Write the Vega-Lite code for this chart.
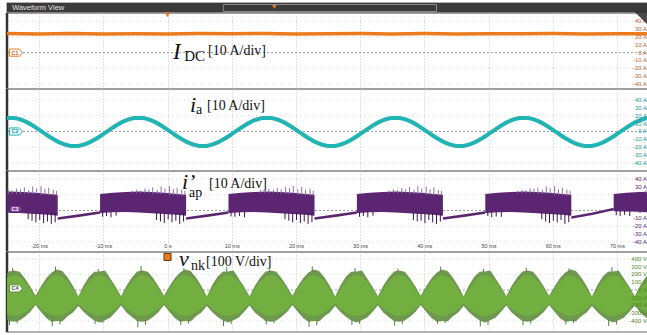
{
"$schema": "https://vega.github.io/schema/vega-lite/v6.json",
"padding": {"left": 5, "top": 2, "right": 0, "bottom": 0},
"spacing": 0,
"bounds": "flush",
"background": "#ffffff",
"config": {
  "view": {"stroke": "#9a9a9a", "strokeWidth": 1.5},
  "axis": {"minExtent": 0, "maxExtent": 0, "domain": false, "ticks": false, "labelFont": "Liberation Sans", "labelOverlap": false, "labelBound": false}
},
"datasets": {
  "ylA": [{"v":-40,"s":"-40 A"},{"v":-30,"s":"-30 A"},{"v":-20,"s":"-20 A"},{"v":-10,"s":"-10 A"},{"v":0,"s":"0 A"},{"v":10,"s":"10 A"},{"v":20,"s":"20 A"},{"v":30,"s":"30 A"},{"v":40,"s":"40 A"}],
  "ylV": [{"v":-400,"s":"-400 V"},{"v":-300,"s":"-300 V"},{"v":-200,"s":"-200 V"},{"v":-100,"s":"-100 V"},{"v":0,"s":"0 V"},{"v":100,"s":"100 V"},{"v":200,"s":"200 V"},{"v":300,"s":"300 V"},{"v":400,"s":"400 V"}],
  "idc": [{"t":-25,"v":24.2},{"t":-20,"v":23.7},{"t":-15,"v":24.3},{"t":-10,"v":23.8},{"t":-5,"v":24.1},{"t":0,"v":23.6},{"t":5,"v":24.2},{"t":10,"v":23.9},{"t":15,"v":24.4},{"t":20,"v":23.7},{"t":25,"v":24.0},{"t":30,"v":24.3},{"t":35,"v":23.8},{"t":40,"v":24.2},{"t":45,"v":23.7},{"t":50,"v":24.1},{"t":55,"v":23.9},{"t":60,"v":24.3},{"t":65,"v":23.8},{"t":70,"v":24.1},{"t":75,"v":23.9}],
  "ia": [{"t":-25,"v":17.28},
    {"t":-24,"v":17.28},{"t":-23,"v":15.54},{"t":-22,"v":12.23},{"t":-21,"v":7.67},{"t":-20,"v":2.32},{"t":-19,"v":-3.32},{"t":-18,"v":-8.67},{"t":-17,"v":-13.23},{"t":-16,"v":-16.54},{"t":-15,"v":-18.28},{"t":-14,"v":-18.28},{"t":-13,"v":-16.54},{"t":-12,"v":-13.23},{"t":-11,"v":-8.67},{"t":-10,"v":-3.32},{"t":-9,"v":2.32},{"t":-8,"v":7.67},{"t":-7,"v":12.23},{"t":-6,"v":15.54},{"t":-5,"v":17.28},
    {"t":-4,"v":17.28},{"t":-3,"v":15.54},{"t":-2,"v":12.23},{"t":-1,"v":7.67},{"t":0,"v":2.32},{"t":1,"v":-3.32},{"t":2,"v":-8.67},{"t":3,"v":-13.23},{"t":4,"v":-16.54},{"t":5,"v":-18.28},{"t":6,"v":-18.28},{"t":7,"v":-16.54},{"t":8,"v":-13.23},{"t":9,"v":-8.67},{"t":10,"v":-3.32},{"t":11,"v":2.32},{"t":12,"v":7.67},{"t":13,"v":12.23},{"t":14,"v":15.54},{"t":15,"v":17.28},
    {"t":16,"v":17.28},{"t":17,"v":15.54},{"t":18,"v":12.23},{"t":19,"v":7.67},{"t":20,"v":2.32},{"t":21,"v":-3.32},{"t":22,"v":-8.67},{"t":23,"v":-13.23},{"t":24,"v":-16.54},{"t":25,"v":-18.28},{"t":26,"v":-18.28},{"t":27,"v":-16.54},{"t":28,"v":-13.23},{"t":29,"v":-8.67},{"t":30,"v":-3.32},{"t":31,"v":2.32},{"t":32,"v":7.67},{"t":33,"v":12.23},{"t":34,"v":15.54},{"t":35,"v":17.28},
    {"t":36,"v":17.28},{"t":37,"v":15.54},{"t":38,"v":12.23},{"t":39,"v":7.67},{"t":40,"v":2.32},{"t":41,"v":-3.32},{"t":42,"v":-8.67},{"t":43,"v":-13.23},{"t":44,"v":-16.54},{"t":45,"v":-18.28},{"t":46,"v":-18.28},{"t":47,"v":-16.54},{"t":48,"v":-13.23},{"t":49,"v":-8.67},{"t":50,"v":-3.32},{"t":51,"v":2.32},{"t":52,"v":7.67},{"t":53,"v":12.23},{"t":54,"v":15.54},{"t":55,"v":17.28},
    {"t":56,"v":17.28},{"t":57,"v":15.54},{"t":58,"v":12.23},{"t":59,"v":7.67},{"t":60,"v":2.32},{"t":61,"v":-3.32},{"t":62,"v":-8.67},{"t":63,"v":-13.23},{"t":64,"v":-16.54},{"t":65,"v":-18.28},{"t":66,"v":-18.28},{"t":67,"v":-16.54},{"t":68,"v":-13.23},{"t":69,"v":-8.67},{"t":70,"v":-3.32},{"t":71,"v":2.32},{"t":72,"v":7.67},{"t":73,"v":12.23},{"t":74,"v":15.54},{"t":75,"v":17.28}],
  "iap": [
    {"s":"b0","t":-30.5,"lo":-3,"hi":21},{"s":"b0","t":-28.5,"lo":-2.2,"hi":22.5},{"s":"b0","t":-26.5,"lo":-2,"hi":23.5},{"s":"b0","t":-24.5,"lo":-2.5,"hi":24},{"s":"b0","t":-22.5,"lo":-3.5,"hi":23.5},{"s":"b0","t":-20.5,"lo":-4.5,"hi":22.5},{"s":"b0","t":-18.5,"lo":-5.5,"hi":21},{"s":"b0","t":-17.1,"lo":-6.5,"hi":20},
    {"s":"g0","t":-17.1,"lo":-11.6,"hi":-8.4},{"s":"g0","t":-13.8,"lo":-8.1,"hi":-4.9},{"s":"g0","t":-10.5,"lo":-4.1,"hi":-0.9},
    {"s":"b1","t":-10.5,"lo":-3,"hi":21},{"s":"b1","t":-8.5,"lo":-2.2,"hi":22.5},{"s":"b1","t":-6.5,"lo":-2,"hi":23.5},{"s":"b1","t":-4.5,"lo":-2.5,"hi":24},{"s":"b1","t":-2.5,"lo":-3.5,"hi":23.5},{"s":"b1","t":-0.5,"lo":-4.5,"hi":22.5},{"s":"b1","t":1.5,"lo":-5.5,"hi":21},{"s":"b1","t":2.9,"lo":-6.5,"hi":20},
    {"s":"g1","t":2.9,"lo":-11.6,"hi":-8.4},{"s":"g1","t":6.2,"lo":-8.1,"hi":-4.9},{"s":"g1","t":9.5,"lo":-4.1,"hi":-0.9},
    {"s":"b2","t":9.5,"lo":-3,"hi":21},{"s":"b2","t":11.5,"lo":-2.2,"hi":22.5},{"s":"b2","t":13.5,"lo":-2,"hi":23.5},{"s":"b2","t":15.5,"lo":-2.5,"hi":24},{"s":"b2","t":17.5,"lo":-3.5,"hi":23.5},{"s":"b2","t":19.5,"lo":-4.5,"hi":22.5},{"s":"b2","t":21.5,"lo":-5.5,"hi":21},{"s":"b2","t":22.9,"lo":-6.5,"hi":20},
    {"s":"g2","t":22.9,"lo":-11.6,"hi":-8.4},{"s":"g2","t":26.2,"lo":-8.1,"hi":-4.9},{"s":"g2","t":29.5,"lo":-4.1,"hi":-0.9},
    {"s":"b3","t":29.5,"lo":-3,"hi":21},{"s":"b3","t":31.5,"lo":-2.2,"hi":22.5},{"s":"b3","t":33.5,"lo":-2,"hi":23.5},{"s":"b3","t":35.5,"lo":-2.5,"hi":24},{"s":"b3","t":37.5,"lo":-3.5,"hi":23.5},{"s":"b3","t":39.5,"lo":-4.5,"hi":22.5},{"s":"b3","t":41.5,"lo":-5.5,"hi":21},{"s":"b3","t":42.9,"lo":-6.5,"hi":20},
    {"s":"g3","t":42.9,"lo":-11.6,"hi":-8.4},{"s":"g3","t":46.2,"lo":-8.1,"hi":-4.9},{"s":"g3","t":49.5,"lo":-4.1,"hi":-0.9},
    {"s":"b4","t":49.5,"lo":-3,"hi":21},{"s":"b4","t":51.5,"lo":-2.2,"hi":22.5},{"s":"b4","t":53.5,"lo":-2,"hi":23.5},{"s":"b4","t":55.5,"lo":-2.5,"hi":24},{"s":"b4","t":57.5,"lo":-3.5,"hi":23.5},{"s":"b4","t":59.5,"lo":-4.5,"hi":22.5},{"s":"b4","t":61.5,"lo":-5.5,"hi":21},{"s":"b4","t":62.9,"lo":-6.5,"hi":20},
    {"s":"g4","t":62.9,"lo":-10.6,"hi":-7.4},{"s":"g4","t":66.2,"lo":-5.6,"hi":-2.4},{"s":"g4","t":69.5,"lo":0.4,"hi":3.6},
    {"s":"b5","t":69.5,"lo":-1,"hi":21},{"s":"b5","t":71.5,"lo":-1.2,"hi":22.5},{"s":"b5","t":73.5,"lo":-1.5,"hi":23.5},{"s":"b5","t":75.5,"lo":-2,"hi":24}],
  "iapdn": [
    {"t":-21.7,"y":-3,"y2":-11},{"t":-21.1,"y":-3,"y2":-13},{"t":-20.5,"y":-3,"y2":-15},{"t":-19.9,"y":-3,"y2":-12},{"t":-19.3,"y":-3,"y2":-16},{"t":-18.7,"y":-3,"y2":-14},{"t":-18.1,"y":-3,"y2":-17},{"t":-17.5,"y":-3,"y2":-15},
    {"t":-10.1,"y":-2,"y2":-8},{"t":-9.5,"y":-2,"y2":-7},{"t":-8.8,"y":-2,"y2":-8.5},{"t":-8.0,"y":-2,"y2":-6.5},{"t":-1.7,"y":-3,"y2":-12},{"t":-1.1,"y":-3,"y2":-14},{"t":-0.5,"y":-3,"y2":-16},{"t":0.1,"y":-3,"y2":-11},{"t":0.7,"y":-3,"y2":-15},{"t":1.3,"y":-3,"y2":-13},{"t":1.9,"y":-3,"y2":-17},{"t":2.5,"y":-3,"y2":-14},
    {"t":9.9,"y":-2,"y2":-7.5},{"t":10.5,"y":-2,"y2":-8},{"t":11.2,"y":-2,"y2":-7},{"t":12.0,"y":-2,"y2":-8.5},{"t":18.3,"y":-3,"y2":-11},{"t":18.9,"y":-3,"y2":-13},{"t":19.5,"y":-3,"y2":-15},{"t":20.1,"y":-3,"y2":-12},{"t":20.7,"y":-3,"y2":-16},{"t":21.3,"y":-3,"y2":-14},{"t":21.9,"y":-3,"y2":-17},{"t":22.5,"y":-3,"y2":-15},
    {"t":29.9,"y":-2,"y2":-8},{"t":30.5,"y":-2,"y2":-7},{"t":31.2,"y":-2,"y2":-8.5},{"t":32.0,"y":-2,"y2":-6.5},{"t":38.3,"y":-3,"y2":-12},{"t":38.9,"y":-3,"y2":-14},{"t":39.5,"y":-3,"y2":-13},{"t":40.1,"y":-3,"y2":-16},{"t":40.7,"y":-3,"y2":-12},{"t":41.3,"y":-3,"y2":-15},{"t":41.9,"y":-3,"y2":-17},{"t":42.5,"y":-3,"y2":-14},
    {"t":49.9,"y":-2,"y2":-7},{"t":50.5,"y":-2,"y2":-8.5},{"t":51.2,"y":-2,"y2":-7.5},{"t":52.0,"y":-2,"y2":-8},{"t":58.3,"y":-3,"y2":-11},{"t":58.9,"y":-3,"y2":-14},{"t":59.5,"y":-3,"y2":-16},{"t":60.1,"y":-3,"y2":-13},{"t":60.7,"y":-3,"y2":-15},{"t":61.3,"y":-3,"y2":-12},{"t":61.9,"y":-3,"y2":-17},{"t":62.5,"y":-3,"y2":-15},
    {"t":69.9,"y":0,"y2":-6},{"t":70.5,"y":0,"y2":-7},{"t":71.2,"y":0,"y2":-5.5},{"t":72.0,"y":0,"y2":-7}],
  "iapup": [
    {"t":-24.8,"y":21,"y2":26.5},{"t":-24.2,"y":21,"y2":25.5},{"t":-23.5,"y":21,"y2":28},{"t":-22.9,"y":21,"y2":27},{"t":-22.3,"y":21,"y2":29.5},{"t":-21.6,"y":21,"y2":26},{"t":-21.0,"y":21,"y2":30.5},{"t":-20.4,"y":21,"y2":28},{"t":-19.7,"y":20,"y2":31},{"t":-19.1,"y":20,"y2":27.5},{"t":-18.5,"y":19,"y2":29},{"t":-17.8,"y":19,"y2":26.5},{"t":-17.3,"y":19,"y2":25},
    {"t":-5.5,"y":22,"y2":25},{"t":-4.8,"y":22,"y2":26.5},{"t":-4.2,"y":22,"y2":25.5},{"t":-3.5,"y":22,"y2":28},{"t":-2.9,"y":22,"y2":27},{"t":-2.3,"y":21,"y2":29.5},{"t":-1.6,"y":21,"y2":26},{"t":-1.0,"y":21,"y2":30.5},{"t":-0.4,"y":21,"y2":28},{"t":0.3,"y":20,"y2":31},{"t":0.9,"y":20,"y2":27.5},{"t":1.5,"y":19,"y2":29},{"t":2.2,"y":19,"y2":26.5},{"t":2.7,"y":19,"y2":25},
    {"t":14.5,"y":22,"y2":26},{"t":15.2,"y":22,"y2":25},{"t":15.8,"y":22,"y2":27.5},{"t":16.5,"y":22,"y2":26.5},{"t":17.1,"y":22,"y2":29},{"t":17.7,"y":21,"y2":27},{"t":18.4,"y":21,"y2":30},{"t":19.0,"y":21,"y2":28.5},{"t":19.6,"y":21,"y2":31},{"t":20.3,"y":20,"y2":27},{"t":20.9,"y":20,"y2":30},{"t":21.5,"y":19,"y2":26.5},{"t":22.2,"y":19,"y2":28},{"t":22.7,"y":19,"y2":25},
    {"t":34.5,"y":22,"y2":25.5},{"t":35.2,"y":22,"y2":27},{"t":35.8,"y":22,"y2":26},{"t":36.5,"y":22,"y2":28.5},{"t":37.1,"y":22,"y2":27},{"t":37.7,"y":21,"y2":30},{"t":38.4,"y":21,"y2":26.5},{"t":39.0,"y":21,"y2":31},{"t":39.6,"y":21,"y2":28},{"t":40.3,"y":20,"y2":30.5},{"t":40.9,"y":20,"y2":27},{"t":41.5,"y":19,"y2":29.5},{"t":42.2,"y":19,"y2":26},{"t":42.7,"y":19,"y2":25},
    {"t":54.5,"y":22,"y2":25},{"t":55.2,"y":22,"y2":26.5},{"t":55.8,"y":22,"y2":25.5},{"t":56.5,"y":22,"y2":28},{"t":57.1,"y":22,"y2":27.5},{"t":57.7,"y":21,"y2":29},{"t":58.4,"y":21,"y2":26.5},{"t":59.0,"y":21,"y2":30.5},{"t":59.6,"y":21,"y2":28.5},{"t":60.3,"y":20,"y2":31},{"t":60.9,"y":20,"y2":27},{"t":61.5,"y":19,"y2":29},{"t":62.2,"y":19,"y2":26.5},{"t":62.7,"y":19,"y2":25},
    {"t":74.5,"y":22,"y2":25.5}],
  "vnk": [
    {"t":-27.22,"a":-95,"b":-175,"c":-80,"d":-200},{"t":-26.39,"a":13,"b":-242,"c":55,"d":-290},{"t":-25.55,"a":109,"b":-291,"c":160,"d":-350},{"t":-24.72,"a":173,"b":-324,"c":240,"d":-400},{"t":-23.89,"a":195,"b":-335,"c":250,"d":-410},{"t":-23.05,"a":173,"b":-324,"c":235,"d":-395},{"t":-22.22,"a":109,"b":-291,"c":150,"d":-345},{"t":-21.39,"a":13,"b":-242,"c":45,"d":-285},
    {"t":-20.55,"a":-95,"b":-175,"c":-75,"d":-195},{"t":-19.72,"a":13,"b":-242,"c":45,"d":-280},{"t":-18.89,"a":109,"b":-291,"c":150,"d":-360},{"t":-18.05,"a":173,"b":-324,"c":225,"d":-410},{"t":-17.22,"a":195,"b":-335,"c":265,"d":-400},{"t":-16.39,"a":173,"b":-324,"c":245,"d":-405},{"t":-15.55,"a":109,"b":-291,"c":160,"d":-340},{"t":-14.72,"a":13,"b":-242,"c":50,"d":-290},
    {"t":-13.89,"a":-95,"b":-175,"c":-85,"d":-205},{"t":-13.05,"a":13,"b":-242,"c":60,"d":-285},{"t":-12.22,"a":109,"b":-291,"c":170,"d":-345},{"t":-11.39,"a":173,"b":-324,"c":235,"d":-395},{"t":-10.55,"a":195,"b":-335,"c":240,"d":-420},{"t":-9.72,"a":173,"b":-324,"c":250,"d":-390},{"t":-8.89,"a":109,"b":-291,"c":145,"d":-355},{"t":-8.05,"a":13,"b":-242,"c":40,"d":-280},
    {"t":-7.22,"a":-95,"b":-175,"c":-80,"d":-200},{"t":-6.39,"a":13,"b":-242,"c":55,"d":-290},{"t":-5.55,"a":109,"b":-291,"c":160,"d":-350},{"t":-4.72,"a":173,"b":-324,"c":240,"d":-400},{"t":-3.89,"a":195,"b":-335,"c":250,"d":-410},{"t":-3.05,"a":173,"b":-324,"c":235,"d":-395},{"t":-2.22,"a":109,"b":-291,"c":150,"d":-345},{"t":-1.39,"a":13,"b":-242,"c":45,"d":-285},
    {"t":-0.55,"a":-95,"b":-175,"c":-75,"d":-195},{"t":0.28,"a":13,"b":-242,"c":45,"d":-280},{"t":1.12,"a":109,"b":-291,"c":150,"d":-360},{"t":1.95,"a":173,"b":-324,"c":225,"d":-410},{"t":2.78,"a":195,"b":-335,"c":265,"d":-400},{"t":3.61,"a":173,"b":-324,"c":245,"d":-405},{"t":4.45,"a":109,"b":-291,"c":160,"d":-340},{"t":5.28,"a":13,"b":-242,"c":50,"d":-290},
    {"t":6.12,"a":-95,"b":-175,"c":-85,"d":-205},{"t":6.95,"a":13,"b":-242,"c":60,"d":-285},{"t":7.78,"a":109,"b":-291,"c":170,"d":-345},{"t":8.61,"a":173,"b":-324,"c":235,"d":-395},{"t":9.45,"a":195,"b":-335,"c":240,"d":-420},{"t":10.28,"a":173,"b":-324,"c":250,"d":-390},{"t":11.12,"a":109,"b":-291,"c":145,"d":-355},{"t":11.95,"a":13,"b":-242,"c":40,"d":-280},
    {"t":12.78,"a":-95,"b":-175,"c":-80,"d":-200},{"t":13.61,"a":13,"b":-242,"c":55,"d":-290},{"t":14.45,"a":109,"b":-291,"c":160,"d":-350},{"t":15.28,"a":173,"b":-324,"c":240,"d":-400},{"t":16.12,"a":195,"b":-335,"c":250,"d":-410},{"t":16.95,"a":173,"b":-324,"c":235,"d":-395},{"t":17.78,"a":109,"b":-291,"c":150,"d":-345},{"t":18.61,"a":13,"b":-242,"c":45,"d":-285},
    {"t":19.45,"a":-95,"b":-175,"c":-75,"d":-195},{"t":20.28,"a":13,"b":-242,"c":45,"d":-280},{"t":21.12,"a":109,"b":-291,"c":150,"d":-360},{"t":21.95,"a":173,"b":-324,"c":225,"d":-410},{"t":22.78,"a":195,"b":-335,"c":265,"d":-400},{"t":23.61,"a":173,"b":-324,"c":245,"d":-405},{"t":24.45,"a":109,"b":-291,"c":160,"d":-340},{"t":25.28,"a":13,"b":-242,"c":50,"d":-290},
    {"t":26.12,"a":-95,"b":-175,"c":-85,"d":-205},{"t":26.95,"a":13,"b":-242,"c":60,"d":-285},{"t":27.78,"a":109,"b":-291,"c":170,"d":-345},{"t":28.61,"a":173,"b":-324,"c":235,"d":-395},{"t":29.45,"a":195,"b":-335,"c":240,"d":-420},{"t":30.28,"a":173,"b":-324,"c":250,"d":-390},{"t":31.12,"a":109,"b":-291,"c":145,"d":-355},{"t":31.95,"a":13,"b":-242,"c":40,"d":-280},
    {"t":32.78,"a":-95,"b":-175,"c":-80,"d":-200},{"t":33.61,"a":13,"b":-242,"c":55,"d":-290},{"t":34.45,"a":109,"b":-291,"c":160,"d":-350},{"t":35.28,"a":173,"b":-324,"c":240,"d":-400},{"t":36.12,"a":195,"b":-335,"c":250,"d":-410},{"t":36.95,"a":173,"b":-324,"c":235,"d":-395},{"t":37.78,"a":109,"b":-291,"c":150,"d":-345},{"t":38.61,"a":13,"b":-242,"c":45,"d":-285},
    {"t":39.45,"a":-95,"b":-175,"c":-75,"d":-195},{"t":40.28,"a":13,"b":-242,"c":45,"d":-280},{"t":41.12,"a":109,"b":-291,"c":150,"d":-360},{"t":41.95,"a":173,"b":-324,"c":225,"d":-410},{"t":42.78,"a":195,"b":-335,"c":265,"d":-400},{"t":43.61,"a":173,"b":-324,"c":245,"d":-405},{"t":44.45,"a":109,"b":-291,"c":160,"d":-340},{"t":45.28,"a":13,"b":-242,"c":50,"d":-290},
    {"t":46.12,"a":-95,"b":-175,"c":-85,"d":-205},{"t":46.95,"a":13,"b":-242,"c":60,"d":-285},{"t":47.78,"a":109,"b":-291,"c":170,"d":-345},{"t":48.61,"a":173,"b":-324,"c":235,"d":-395},{"t":49.45,"a":195,"b":-335,"c":240,"d":-420},{"t":50.28,"a":173,"b":-324,"c":250,"d":-390},{"t":51.12,"a":109,"b":-291,"c":145,"d":-355},{"t":51.95,"a":13,"b":-242,"c":40,"d":-280},
    {"t":52.78,"a":-95,"b":-175,"c":-80,"d":-200},{"t":53.61,"a":13,"b":-242,"c":55,"d":-290},{"t":54.45,"a":109,"b":-291,"c":160,"d":-350},{"t":55.28,"a":173,"b":-324,"c":240,"d":-400},{"t":56.12,"a":195,"b":-335,"c":250,"d":-410},{"t":56.95,"a":173,"b":-324,"c":235,"d":-395},{"t":57.78,"a":109,"b":-291,"c":150,"d":-345},{"t":58.61,"a":13,"b":-242,"c":45,"d":-285},
    {"t":59.45,"a":-95,"b":-175,"c":-75,"d":-195},{"t":60.28,"a":13,"b":-242,"c":45,"d":-280},{"t":61.12,"a":109,"b":-291,"c":150,"d":-360},{"t":61.95,"a":173,"b":-324,"c":225,"d":-410},{"t":62.78,"a":195,"b":-335,"c":265,"d":-400},{"t":63.61,"a":173,"b":-324,"c":245,"d":-405},{"t":64.45,"a":109,"b":-291,"c":160,"d":-340},{"t":65.28,"a":13,"b":-242,"c":50,"d":-290},
    {"t":66.12,"a":-95,"b":-175,"c":-85,"d":-205},{"t":66.95,"a":13,"b":-242,"c":60,"d":-285},{"t":67.78,"a":109,"b":-291,"c":170,"d":-345},{"t":68.61,"a":173,"b":-324,"c":235,"d":-395},{"t":69.45,"a":195,"b":-335,"c":240,"d":-420},{"t":70.28,"a":173,"b":-324,"c":250,"d":-390},{"t":71.12,"a":109,"b":-291,"c":145,"d":-355},{"t":71.95,"a":13,"b":-242,"c":40,"d":-280},
    {"t":72.78,"a":-95,"b":-175,"c":-80,"d":-200},{"t":73.61,"a":13,"b":-242,"c":55,"d":-290},{"t":74.45,"a":109,"b":-291,"c":160,"d":-350},{"t":75.28,"a":173,"b":-324,"c":240,"d":-400}],
  "vnksp": [
    {"t":-24.12,"y":230,"y2":285},{"t":-17.45,"y":230,"y2":300},{"t":-10.79,"y":230,"y2":270},{"t":-4.12,"y":230,"y2":310},{"t":2.55,"y":230,"y2":280},{"t":9.22,"y":230,"y2":295},{"t":15.88,"y":230,"y2":265},{"t":22.55,"y":230,"y2":305},{"t":29.22,"y":230,"y2":285},{"t":35.88,"y":230,"y2":275},{"t":42.55,"y":230,"y2":300},{"t":49.22,"y":230,"y2":270},{"t":55.88,"y":230,"y2":290},{"t":62.55,"y":230,"y2":280},{"t":69.22,"y":230,"y2":295},
    {"t":-24.62,"y":-390,"y2":-455},{"t":-17.95,"y":-390,"y2":-470},{"t":-11.29,"y":-390,"y2":-440},{"t":-4.62,"y":-390,"y2":-480},{"t":2.05,"y":-390,"y2":-450},{"t":8.72,"y":-390,"y2":-465},{"t":15.38,"y":-390,"y2":-445},{"t":22.05,"y":-390,"y2":-475},{"t":28.72,"y":-390,"y2":-450},{"t":35.38,"y":-390,"y2":-460},{"t":42.05,"y":-390,"y2":-440},{"t":48.72,"y":-390,"y2":-470},{"t":55.38,"y":-390,"y2":-455},{"t":62.05,"y":-390,"y2":-445},{"t":68.72,"y":-390,"y2":-465},
    {"t":-23.42,"y":-390,"y2":-430},{"t":-16.75,"y":-390,"y2":-445},{"t":-10.09,"y":-390,"y2":-425},{"t":-3.42,"y":-390,"y2":-450},{"t":3.25,"y":-390,"y2":-435},{"t":9.92,"y":-390,"y2":-440},{"t":16.58,"y":-390,"y2":-430},{"t":23.25,"y":-390,"y2":-455},{"t":29.92,"y":-390,"y2":-435},{"t":36.58,"y":-390,"y2":-440},{"t":43.25,"y":-390,"y2":-425},{"t":49.92,"y":-390,"y2":-450},{"t":56.58,"y":-390,"y2":-435},{"t":63.25,"y":-390,"y2":-430},{"t":69.92,"y":-390,"y2":-445}]
},
"vconcat": [
  {
    "width": 642, "height": 10,
    "layer": [
      {"data": {"values": [{"a": -25, "b": 75}]},
       "mark": {"type": "rect", "color": "#3a3a3a"},
       "encoding": {"x": {"field": "a", "type": "quantitative", "scale": {"domain": [-25, 75], "nice": false, "zero": false}, "axis": null}, "x2": {"field": "b"},
                    "y": {"datum": 0, "type": "quantitative", "scale": {"domain": [0, 10], "nice": false, "zero": false}, "axis": null}, "y2": {"datum": 10}}},
      {"data": {"values": [{"a": 8.7, "b": 41.9}]},
       "mark": {"type": "rect", "fillOpacity": 0, "stroke": "#8a8a8a", "strokeWidth": 1},
       "encoding": {"x": {"field": "a", "type": "quantitative", "scale": {"domain": [-25, 75], "nice": false, "zero": false}}, "x2": {"field": "b"},
                    "y": {"datum": 1.5, "type": "quantitative", "scale": {"domain": [0, 10], "nice": false, "zero": false}}, "y2": {"datum": 8.5}}},
      {"data": {"values": [{"t": 16.65, "v": 6}]},
       "mark": {"type": "point", "shape": "triangle-down", "filled": true, "color": "#e8791e", "size": 22, "opacity": 1},
       "encoding": {"x": {"field": "t", "type": "quantitative", "scale": {"domain": [-25, 75], "nice": false, "zero": false}},
                    "y": {"field": "v", "type": "quantitative", "scale": {"domain": [0, 10], "nice": false, "zero": false}}}},
      {"data": {"values": [{"t": -24.2, "v": 5, "s": "Waveform View"}]},
       "mark": {"type": "text", "align": "left", "baseline": "middle", "color": "#e4e4e4", "fontSize": 7.5, "font": "Liberation Sans"},
       "encoding": {"x": {"field": "t", "type": "quantitative", "scale": {"domain": [-25, 75], "nice": false, "zero": false}},
                    "y": {"field": "v", "type": "quantitative", "scale": {"domain": [0, 10], "nice": false, "zero": false}},
                    "text": {"field": "s"}}}
    ]
  },
  {
    "width": 642, "height": 76,
    "layer": [
      {"data": {"values": [{"v": -40}, {"v": -20}, {"v": 20}, {"v": 40}]},
       "mark": {"type": "rule", "color": "#d6d6d6", "strokeDash": [1, 3]},
       "encoding": {"y": {"field": "v", "type": "quantitative", "scale": {"domain": [-46.3, 50.4], "nice": false, "zero": false}, "axis": null}}},
      {"data": {"values": [{}]}, "mark": {"type": "rule", "color": "#9a9a9a", "strokeDash": [2, 2]},
       "encoding": {"y": {"datum": 0, "type": "quantitative", "scale": {"domain": [-46.3, 50.4], "nice": false, "zero": false}}}},
      {"data": {"values": [{}]}, "mark": {"type": "rule", "color": "#333333", "strokeWidth": 2.5},
       "encoding": {"x": {"datum": -25, "type": "quantitative", "scale": {"domain": [-25, 75], "nice": false, "zero": false},
         "axis": {"title": null, "values": [-20, -10, 0, 10, 20, 30, 40, 50, 60, 70], "labels": false, "grid": true, "gridDash": [1, 2], "gridColor": "#c4c4c4"}}}},
      {"data": {"name": "idc"}, "mark": {"type": "line", "color": "#ec7a1e", "strokeWidth": 3.5, "clip": true},
       "encoding": {"x": {"field": "t", "type": "quantitative", "scale": {"domain": [-25, 75], "nice": false, "zero": false}},
                    "y": {"field": "v", "type": "quantitative", "scale": {"domain": [-46.3, 50.4], "nice": false, "zero": false}}}},
      {"data": {"name": "ylA"}, "mark": {"type": "text", "align": "right", "baseline": "middle", "fontSize": 6, "font": "Liberation Sans", "color": "#c0661e", "dx": -2},
       "encoding": {"x": {"datum": 75, "type": "quantitative", "scale": {"domain": [-25, 75], "nice": false, "zero": false}},
                    "y": {"field": "v", "type": "quantitative", "scale": {"domain": [-46.3, 50.4], "nice": false, "zero": false}}, "text": {"field": "s"}}},
      {"data": {"values": [{"t": 0, "v": 48}]}, "mark": {"type": "point", "shape": "triangle-down", "filled": true, "color": "#e8791e", "size": 28, "opacity": 1},
       "encoding": {"x": {"field": "t", "type": "quantitative", "scale": {"domain": [-25, 75], "nice": false, "zero": false}},
                    "y": {"field": "v", "type": "quantitative", "scale": {"domain": [-46.3, 50.4], "nice": false, "zero": false}}}},
      {"data": {"values": [{"t": 73.9, "v": 43.5}]}, "mark": {"type": "point", "shape": "M -1 -1 L 1 -1 L 1 1 Z", "filled": true, "fill": "#4a4a4a", "stroke": "#2e2e2e", "strokeWidth": 1, "size": 170, "opacity": 1},
       "encoding": {"x": {"field": "t", "type": "quantitative", "scale": {"domain": [-25, 75], "nice": false, "zero": false}},
                    "y": {"field": "v", "type": "quantitative", "scale": {"domain": [-46.3, 50.4], "nice": false, "zero": false}}}},
      {"data": {"values": [{"t": -23.6, "v": 0, "s": "C1"}]},
       "layer": [
         {"mark": {"type": "point", "shape": "M -1 -0.55 L 0.55 -0.55 L 1 0 L 0.55 0.55 L -1 0.55 Z", "size": 170, "filled": true, "fill": "#ffffff", "stroke": "#ec7a1e", "strokeWidth": 1, "opacity": 1},
          "encoding": {"x": {"field": "t", "type": "quantitative", "scale": {"domain": [-25, 75], "nice": false, "zero": false}},
                       "y": {"field": "v", "type": "quantitative", "scale": {"domain": [-46.3, 50.4], "nice": false, "zero": false}}}},
         {"mark": {"type": "text", "fontSize": 5.5, "fontWeight": "bold", "color": "#c0661e", "align": "center", "baseline": "middle", "dx": -1},
          "encoding": {"x": {"field": "t", "type": "quantitative", "scale": {"domain": [-25, 75], "nice": false, "zero": false}},
                       "y": {"field": "v", "type": "quantitative", "scale": {"domain": [-46.3, 50.4], "nice": false, "zero": false}}, "text": {"field": "s"}}}
       ]},
      {"data": {"values": [{"t": 0.85, "v": -8.1, "s": "I"}]},
       "mark": {"type": "text", "align": "left", "baseline": "alphabetic", "font": "Liberation Serif", "fontStyle": "italic", "fontSize": 23, "color": "#111111"},
       "encoding": {"x": {"field": "t", "type": "quantitative", "scale": {"domain": [-25, 75], "nice": false, "zero": false}},
                    "y": {"field": "v", "type": "quantitative", "scale": {"domain": [-46.3, 50.4], "nice": false, "zero": false}}, "text": {"field": "s"}}},
      {"data": {"values": [{"t": 2.6, "v": -10.7, "s": "DC"}]},
       "mark": {"type": "text", "align": "left", "baseline": "alphabetic", "font": "Liberation Serif", "fontSize": 15, "color": "#111111"},
       "encoding": {"x": {"field": "t", "type": "quantitative", "scale": {"domain": [-25, 75], "nice": false, "zero": false}},
                    "y": {"field": "v", "type": "quantitative", "scale": {"domain": [-46.3, 50.4], "nice": false, "zero": false}}, "text": {"field": "s"}}},
      {"data": {"values": [{"t": 6.31, "v": -3.1, "s": "[10 A/div]"}]},
       "mark": {"type": "text", "align": "left", "baseline": "alphabetic", "font": "Liberation Serif", "fontSize": 14, "color": "#111111"},
       "encoding": {"x": {"field": "t", "type": "quantitative", "scale": {"domain": [-25, 75], "nice": false, "zero": false}},
                    "y": {"field": "v", "type": "quantitative", "scale": {"domain": [-46.3, 50.4], "nice": false, "zero": false}}, "text": {"field": "s"}}}
    ]
  },
  {
    "width": 642, "height": 82,
    "layer": [
      {"data": {"values": [{"v": -40}, {"v": -20}, {"v": 20}, {"v": 40}]},
       "mark": {"type": "rule", "color": "#d6d6d6", "strokeDash": [1, 3]},
       "encoding": {"y": {"field": "v", "type": "quantitative", "scale": {"domain": [-50.2, 54], "nice": false, "zero": false}, "axis": null}}},
      {"data": {"values": [{}]}, "mark": {"type": "rule", "color": "#9a9a9a", "strokeDash": [2, 2]},
       "encoding": {"y": {"datum": 0, "type": "quantitative", "scale": {"domain": [-50.2, 54], "nice": false, "zero": false}}}},
      {"data": {"values": [{}]}, "mark": {"type": "rule", "color": "#333333", "strokeWidth": 2.5},
       "encoding": {"x": {"datum": -25, "type": "quantitative", "scale": {"domain": [-25, 75], "nice": false, "zero": false},
         "axis": {"title": null, "values": [-20, -10, 0, 10, 20, 30, 40, 50, 60, 70], "labels": false, "grid": true, "gridDash": [1, 2], "gridColor": "#c4c4c4"}}}},
      {"data": {"name": "ia"}, "mark": {"type": "line", "color": "#22b3b3", "strokeWidth": 4, "interpolate": "monotone", "clip": true},
       "encoding": {"x": {"field": "t", "type": "quantitative", "scale": {"domain": [-25, 75], "nice": false, "zero": false}},
                    "y": {"field": "v", "type": "quantitative", "scale": {"domain": [-50.2, 54], "nice": false, "zero": false}}}},
      {"data": {"name": "ylA"}, "mark": {"type": "text", "align": "right", "baseline": "middle", "fontSize": 6, "font": "Liberation Sans", "color": "#179a9a", "dx": -2},
       "encoding": {"x": {"datum": 75, "type": "quantitative", "scale": {"domain": [-25, 75], "nice": false, "zero": false}},
                    "y": {"field": "v", "type": "quantitative", "scale": {"domain": [-50.2, 54], "nice": false, "zero": false}}, "text": {"field": "s"}}},
      {"data": {"values": [{"t": -23.6, "v": 0, "s": "C2"}]},
       "layer": [
         {"mark": {"type": "point", "shape": "M -1 -0.55 L 0.55 -0.55 L 1 0 L 0.55 0.55 L -1 0.55 Z", "size": 170, "filled": true, "fill": "#eefafa", "stroke": "#22b3b3", "strokeWidth": 1, "opacity": 1},
          "encoding": {"x": {"field": "t", "type": "quantitative", "scale": {"domain": [-25, 75], "nice": false, "zero": false}},
                       "y": {"field": "v", "type": "quantitative", "scale": {"domain": [-50.2, 54], "nice": false, "zero": false}}}},
         {"mark": {"type": "text", "fontSize": 5.5, "fontWeight": "bold", "color": "#179a9a", "align": "center", "baseline": "middle", "dx": -1},
          "encoding": {"x": {"field": "t", "type": "quantitative", "scale": {"domain": [-25, 75], "nice": false, "zero": false}},
                       "y": {"field": "v", "type": "quantitative", "scale": {"domain": [-50.2, 54], "nice": false, "zero": false}}, "text": {"field": "s"}}}
       ]},
      {"data": {"values": [{"t": 3.5, "v": 24.8, "s": "i"}]},
       "mark": {"type": "text", "align": "left", "baseline": "alphabetic", "font": "Liberation Serif", "fontStyle": "italic", "fontSize": 22, "color": "#111111"},
       "encoding": {"x": {"field": "t", "type": "quantitative", "scale": {"domain": [-25, 75], "nice": false, "zero": false}},
                    "y": {"field": "v", "type": "quantitative", "scale": {"domain": [-50.2, 54], "nice": false, "zero": false}}, "text": {"field": "s"}}},
      {"data": {"values": [{"t": 4.44, "v": 22.2, "s": "a"}]},
       "mark": {"type": "text", "align": "left", "baseline": "alphabetic", "font": "Liberation Serif", "fontSize": 14, "color": "#111111"},
       "encoding": {"x": {"field": "t", "type": "quantitative", "scale": {"domain": [-25, 75], "nice": false, "zero": false}},
                    "y": {"field": "v", "type": "quantitative", "scale": {"domain": [-50.2, 54], "nice": false, "zero": false}}, "text": {"field": "s"}}},
      {"data": {"values": [{"t": 6.15, "v": 27.3, "s": "[10 A/div]"}]},
       "mark": {"type": "text", "align": "left", "baseline": "alphabetic", "font": "Liberation Serif", "fontSize": 14, "color": "#111111"},
       "encoding": {"x": {"field": "t", "type": "quantitative", "scale": {"domain": [-25, 75], "nice": false, "zero": false}},
                    "y": {"field": "v", "type": "quantitative", "scale": {"domain": [-50.2, 54], "nice": false, "zero": false}}, "text": {"field": "s"}}}
    ]
  },
  {
    "width": 642, "height": 81,
    "layer": [
      {"data": {"values": [{"v": -40}, {"v": -20}, {"v": 20}, {"v": 40}]},
       "mark": {"type": "rule", "color": "#d6d6d6", "strokeDash": [1, 3]},
       "encoding": {"y": {"field": "v", "type": "quantitative", "scale": {"domain": [-52.7, 50.2], "nice": false, "zero": false}, "axis": null}}},
      {"data": {"values": [{}]}, "mark": {"type": "rule", "color": "#9a9a9a", "strokeDash": [2, 2]},
       "encoding": {"y": {"datum": 0, "type": "quantitative", "scale": {"domain": [-52.7, 50.2], "nice": false, "zero": false}}}},
      {"data": {"values": [{}]}, "mark": {"type": "rule", "color": "#333333", "strokeWidth": 2.5},
       "encoding": {"x": {"datum": -25, "type": "quantitative", "scale": {"domain": [-25, 75], "nice": false, "zero": false},
         "axis": {"orient": "bottom", "title": null, "values": [-20, -10, 0, 10, 20, 30, 40, 50, 60, 70], "labels": true, "labelExpr": "datum.value == 0 ? '0 s' : datum.value + ' ms'", "labelPadding": -9, "labelFontSize": 5.5, "labelColor": "#444444", "labelFlush": false, "labelOverlap": false, "grid": true, "gridDash": [1, 2], "gridColor": "#c4c4c4"}}}},
      {"data": {"name": "iap"}, "mark": {"type": "area", "color": "#5b2571", "opacity": 1, "clip": true},
       "encoding": {"x": {"field": "t", "type": "quantitative", "scale": {"domain": [-25, 75], "nice": false, "zero": false}},
                    "y": {"field": "lo", "type": "quantitative", "scale": {"domain": [-52.7, 50.2], "nice": false, "zero": false}},
                    "y2": {"field": "hi"}, "detail": {"field": "s"}}},
      {"data": {"name": "iapdn"}, "mark": {"type": "rule", "color": "#3e1250", "strokeWidth": 1, "clip": true},
       "encoding": {"x": {"field": "t", "type": "quantitative", "scale": {"domain": [-25, 75], "nice": false, "zero": false}},
                    "y": {"field": "y", "type": "quantitative", "scale": {"domain": [-52.7, 50.2], "nice": false, "zero": false}},
                    "y2": {"field": "y2"}}},
      {"data": {"name": "iapup"}, "mark": {"type": "rule", "color": "#8f6fa3", "strokeWidth": 1, "clip": true},
       "encoding": {"x": {"field": "t", "type": "quantitative", "scale": {"domain": [-25, 75], "nice": false, "zero": false}},
                    "y": {"field": "y", "type": "quantitative", "scale": {"domain": [-52.7, 50.2], "nice": false, "zero": false}},
                    "y2": {"field": "y2"}}},
      {"data": {"name": "ylA"}, "mark": {"type": "text", "align": "right", "baseline": "middle", "fontSize": 6, "font": "Liberation Sans", "color": "#5a2370", "dx": -2},
       "encoding": {"x": {"datum": 75, "type": "quantitative", "scale": {"domain": [-25, 75], "nice": false, "zero": false}},
                    "y": {"field": "v", "type": "quantitative", "scale": {"domain": [-52.7, 50.2], "nice": false, "zero": false}}, "text": {"field": "s"}}},
      {"data": {"values": [{"t": -23.6, "v": 2, "s": "C3"}]},
       "layer": [
         {"mark": {"type": "point", "shape": "M -1 -0.55 L 0.55 -0.55 L 1 0 L 0.55 0.55 L -1 0.55 Z", "size": 170, "filled": true, "fill": "#7a3c92", "stroke": "#5b2571", "strokeWidth": 1, "opacity": 1},
          "encoding": {"x": {"field": "t", "type": "quantitative", "scale": {"domain": [-25, 75], "nice": false, "zero": false}},
                       "y": {"field": "v", "type": "quantitative", "scale": {"domain": [-52.7, 50.2], "nice": false, "zero": false}}}},
         {"mark": {"type": "text", "fontSize": 5.5, "fontWeight": "bold", "color": "#ffffff", "align": "center", "baseline": "middle", "dx": -1},
          "encoding": {"x": {"field": "t", "type": "quantitative", "scale": {"domain": [-25, 75], "nice": false, "zero": false}},
                       "y": {"field": "v", "type": "quantitative", "scale": {"domain": [-52.7, 50.2], "nice": false, "zero": false}}, "text": {"field": "s"}}}
       ]},
      {"data": {"values": [{"t": 2.26, "v": 27.3, "s": "i’"}]},
       "mark": {"type": "text", "align": "left", "baseline": "alphabetic", "font": "Liberation Serif", "fontStyle": "italic", "fontSize": 22, "color": "#111111"},
       "encoding": {"x": {"field": "t", "type": "quantitative", "scale": {"domain": [-25, 75], "nice": false, "zero": false}},
                    "y": {"field": "v", "type": "quantitative", "scale": {"domain": [-52.7, 50.2], "nice": false, "zero": false}}, "text": {"field": "s"}}},
      {"data": {"values": [{"t": 3.35, "v": 17.1, "s": "ap"}]},
       "mark": {"type": "text", "align": "left", "baseline": "alphabetic", "font": "Liberation Serif", "fontSize": 14, "color": "#111111"},
       "encoding": {"x": {"field": "t", "type": "quantitative", "scale": {"domain": [-25, 75], "nice": false, "zero": false}},
                    "y": {"field": "v", "type": "quantitative", "scale": {"domain": [-52.7, 50.2], "nice": false, "zero": false}}, "text": {"field": "s"}}},
      {"data": {"values": [{"t": 6.46, "v": 28.6, "s": "[10 A/div]"}]},
       "mark": {"type": "text", "align": "left", "baseline": "alphabetic", "font": "Liberation Serif", "fontSize": 14, "color": "#111111"},
       "encoding": {"x": {"field": "t", "type": "quantitative", "scale": {"domain": [-25, 75], "nice": false, "zero": false}},
                    "y": {"field": "v", "type": "quantitative", "scale": {"domain": [-52.7, 50.2], "nice": false, "zero": false}}, "text": {"field": "s"}}}
    ]
  },
  {
    "width": 642, "height": 80,
    "layer": [
      {"data": {"values": [{"v": -400}, {"v": -200}, {"v": 200}, {"v": 400}]},
       "mark": {"type": "rule", "color": "#d6d6d6", "strokeDash": [1, 3]},
       "encoding": {"y": {"field": "v", "type": "quantitative", "scale": {"domain": [-542, 490], "nice": false, "zero": false}, "axis": null}}},
      {"data": {"values": [{}]}, "mark": {"type": "rule", "color": "#9a9a9a", "strokeDash": [2, 2]},
       "encoding": {"y": {"datum": 0, "type": "quantitative", "scale": {"domain": [-542, 490], "nice": false, "zero": false}}}},
      {"data": {"values": [{}]}, "mark": {"type": "rule", "color": "#333333", "strokeWidth": 2.5},
       "encoding": {"x": {"datum": -25, "type": "quantitative", "scale": {"domain": [-25, 75], "nice": false, "zero": false},
         "axis": {"title": null, "values": [-20, -10, 0, 10, 20, 30, 40, 50, 60, 70], "labels": false, "grid": true, "gridDash": [1, 2], "gridColor": "#c4c4c4"}}}},
      {"data": {"name": "vnk"}, "mark": {"type": "area", "color": "#5e8d3a", "opacity": 0.9, "clip": true},
       "encoding": {"x": {"field": "t", "type": "quantitative", "scale": {"domain": [-25, 75], "nice": false, "zero": false}},
                    "y": {"field": "d", "type": "quantitative", "scale": {"domain": [-542, 490], "nice": false, "zero": false}},
                    "y2": {"field": "c"}}},
      {"data": {"name": "vnk"}, "mark": {"type": "area", "color": "#72ae40", "opacity": 1, "clip": true},
       "encoding": {"x": {"field": "t", "type": "quantitative", "scale": {"domain": [-25, 75], "nice": false, "zero": false}},
                    "y": {"field": "b", "type": "quantitative", "scale": {"domain": [-542, 490], "nice": false, "zero": false}},
                    "y2": {"field": "a"}}},
      {"data": {"name": "vnksp"}, "mark": {"type": "rule", "color": "#55803a", "strokeWidth": 1, "clip": true},
       "encoding": {"x": {"field": "t", "type": "quantitative", "scale": {"domain": [-25, 75], "nice": false, "zero": false}},
                    "y": {"field": "y", "type": "quantitative", "scale": {"domain": [-542, 490], "nice": false, "zero": false}},
                    "y2": {"field": "y2"}}},
      {"data": {"name": "ylV"}, "mark": {"type": "text", "align": "right", "baseline": "middle", "fontSize": 6, "font": "Liberation Sans", "color": "#4f8a24", "dx": -2},
       "encoding": {"x": {"datum": 75, "type": "quantitative", "scale": {"domain": [-25, 75], "nice": false, "zero": false}},
                    "y": {"field": "v", "type": "quantitative", "scale": {"domain": [-542, 490], "nice": false, "zero": false}}, "text": {"field": "s"}}},
      {"data": {"values": [{"t": -23.6, "v": 20, "s": "C4"}]},
       "layer": [
         {"mark": {"type": "point", "shape": "M -1 -0.55 L 0.55 -0.55 L 1 0 L 0.55 0.55 L -1 0.55 Z", "size": 170, "filled": true, "fill": "#ffffff", "stroke": "#5e8d3a", "strokeWidth": 1, "opacity": 1},
          "encoding": {"x": {"field": "t", "type": "quantitative", "scale": {"domain": [-25, 75], "nice": false, "zero": false}},
                       "y": {"field": "v", "type": "quantitative", "scale": {"domain": [-542, 490], "nice": false, "zero": false}}}},
         {"mark": {"type": "text", "fontSize": 5.5, "fontWeight": "bold", "color": "#3d5f25", "align": "center", "baseline": "middle", "dx": -1},
          "encoding": {"x": {"field": "t", "type": "quantitative", "scale": {"domain": [-25, 75], "nice": false, "zero": false}},
                       "y": {"field": "v", "type": "quantitative", "scale": {"domain": [-542, 490], "nice": false, "zero": false}}, "text": {"field": "s"}}}
       ]},
      {"data": {"values": [{"t": 0, "v": 426}]}, "mark": {"type": "point", "shape": "square", "filled": true, "fill": "#e8791e", "stroke": "#6a3a10", "strokeWidth": 1, "size": 50, "opacity": 1},
       "encoding": {"x": {"field": "t", "type": "quantitative", "scale": {"domain": [-25, 75], "nice": false, "zero": false}},
                    "y": {"field": "v", "type": "quantitative", "scale": {"domain": [-542, 490], "nice": false, "zero": false}}}},
      {"data": {"values": [{"t": 1.79, "v": 310, "s": "v"}]},
       "mark": {"type": "text", "align": "left", "baseline": "alphabetic", "font": "Liberation Serif", "fontStyle": "italic", "fontSize": 22, "color": "#111111"},
       "encoding": {"x": {"field": "t", "type": "quantitative", "scale": {"domain": [-25, 75], "nice": false, "zero": false}},
                    "y": {"field": "v", "type": "quantitative", "scale": {"domain": [-542, 490], "nice": false, "zero": false}}, "text": {"field": "s"}}},
      {"data": {"values": [{"t": 3.66, "v": 258, "s": "nk"}]},
       "mark": {"type": "text", "align": "left", "baseline": "alphabetic", "font": "Liberation Serif", "fontSize": 14, "color": "#111111"},
       "encoding": {"x": {"field": "t", "type": "quantitative", "scale": {"domain": [-25, 75], "nice": false, "zero": false}},
                    "y": {"field": "v", "type": "quantitative", "scale": {"domain": [-542, 490], "nice": false, "zero": false}}, "text": {"field": "s"}}},
      {"data": {"values": [{"t": 6.0, "v": 310, "s": "[100 V/div]"}]},
       "mark": {"type": "text", "align": "left", "baseline": "alphabetic", "font": "Liberation Serif", "fontSize": 14, "color": "#111111"},
       "encoding": {"x": {"field": "t", "type": "quantitative", "scale": {"domain": [-25, 75], "nice": false, "zero": false}},
                    "y": {"field": "v", "type": "quantitative", "scale": {"domain": [-542, 490], "nice": false, "zero": false}}, "text": {"field": "s"}}}
    ]
  }
]
}
